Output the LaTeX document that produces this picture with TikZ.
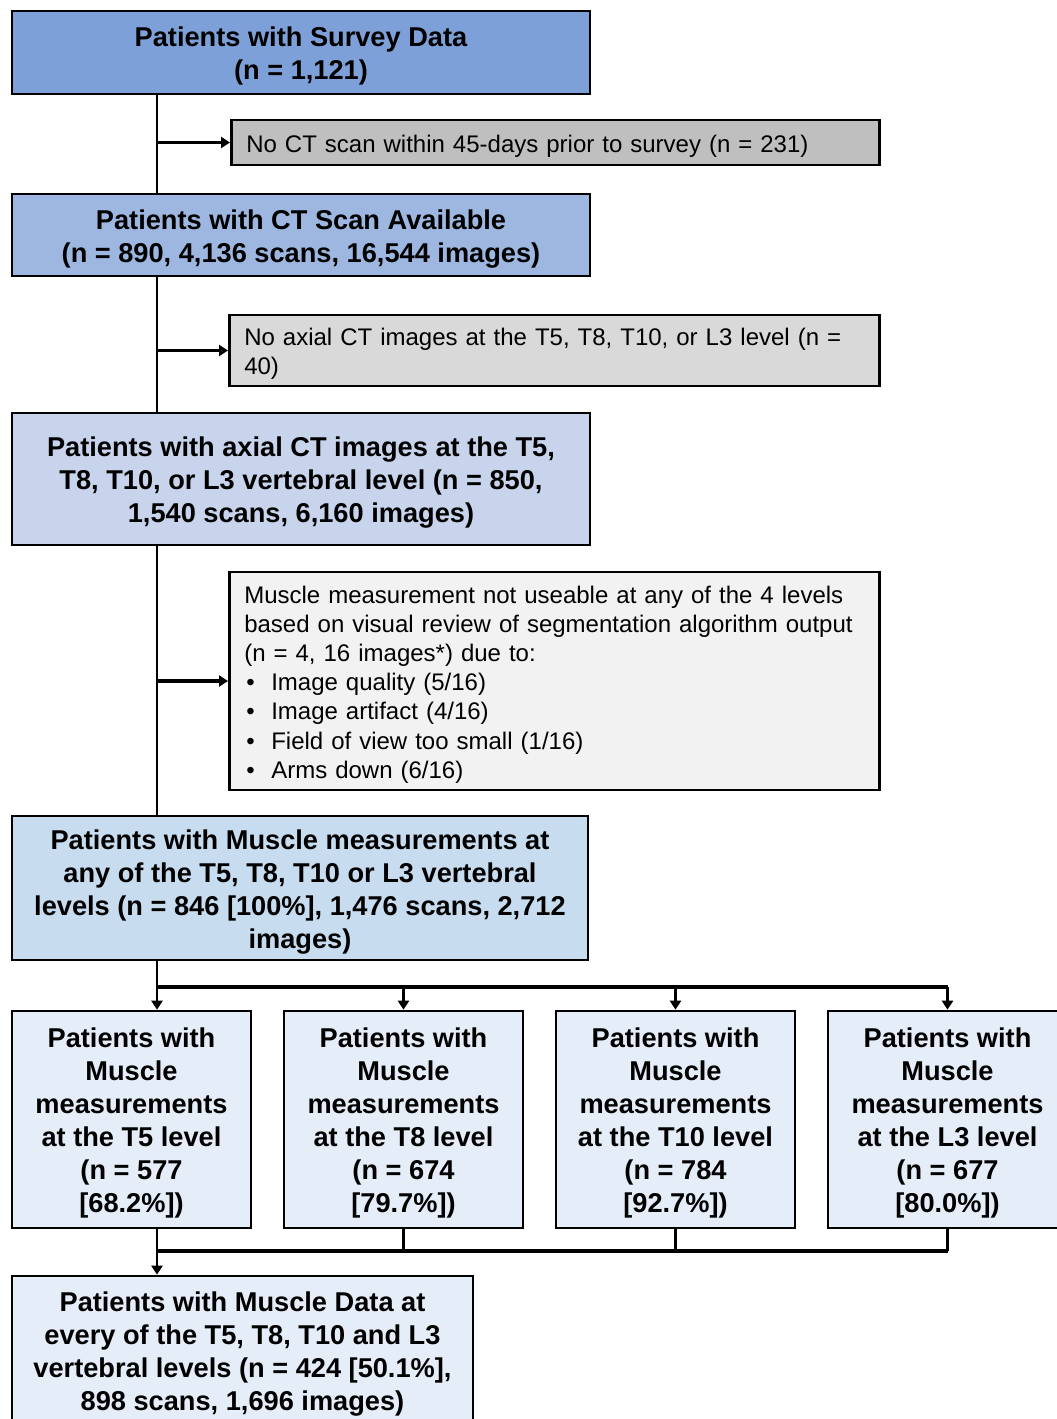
\documentclass[tikz,border=0pt]{standalone}
\usepackage{fontspec}
\setmainfont{Liberation Sans}
\usetikzlibrary{arrows.meta}
\definecolor{cA}{HTML}{7EA0D8}
\definecolor{cB}{HTML}{9DB7E1}
\definecolor{cC}{HTML}{C7D4EC}
\definecolor{cD}{HTML}{C8DCF0}
\definecolor{cE}{HTML}{E4EDF8}
\definecolor{gA}{HTML}{BFBFBF}
\definecolor{gB}{HTML}{D9D9D9}
\definecolor{gC}{HTML}{F2F2F2}
\newcommand\tstrut{\rule{0pt}{27pt}}
\begin{document}
\begin{tikzpicture}[x=1pt,y=-1pt,
  mainbox/.style={draw=black, line width=2.6pt, align=center,
    font=\fontsize{27.2}{33}\selectfont\bfseries, inner sep=0pt},
  exbox/.style={draw=black, line width=2.6pt, align=left, anchor=west,
    font=\fontsize{24}{29.2}\selectfont, inner xsep=15pt, inner ysep=0pt,
    execute at begin node={\rule{0pt}{24.5pt}}},
  conn/.style={line width=2.6pt},
  bus/.style={line width=4pt},
  arr/.style={line width=2.6pt, -{Triangle[length=9pt,width=11pt]}},
  arrb/.style={line width=3.6pt, -{Triangle[length=9pt,width=11pt]}}]
\useasboundingbox (0,0) rectangle (1057,1419);
\clip (0,0) rectangle (1057,1419);
\coordinate (t) at (157,0);
\coordinate (h1) at (0,987);
\coordinate (h2) at (0,1251);

\node[mainbox, fill=cA, minimum width=578pt, minimum height=83pt] (b1) at (301,52.5)
  {\tstrut Patients with Survey Data\\(n = 1,121)};
\node[exbox, fill=gA, minimum width=648pt, minimum height=45pt, text width=618pt] (b2) at (230,142.5)
  {No CT scan within 45-days prior to survey (n = 231)};
\node[mainbox, fill=cB, minimum width=578pt, minimum height=82pt] (b3) at (301,235)
  {\tstrut Patients with CT Scan Available\\(n = 890, 4,136 scans, 16,544 images)};
\node[exbox, fill=gB, minimum width=650pt, minimum height=71pt, text width=620pt] (b4) at (228,350.5)
  {No axial CT images at the T5, T8, T10, or L3 level (n =\\40)};
\node[mainbox, fill=cC, minimum width=578pt, minimum height=132pt] (b5) at (301,479)
  {\tstrut Patients with axial CT images at the T5,\\T8, T10, or L3 vertebral level (n = 850,\\1,540 scans, 6,160 images)};
\node[exbox, fill=gC, minimum width=650pt, minimum height=218pt, text width=620pt] (b6) at (228,681)
  {Muscle measurement not useable at any of the 4 levels\\
   based on visual review of segmentation algorithm output\\
   (n = 4, 16 images*) due to:\\
   \hspace*{2pt}\makebox[25pt][l]{•}Image quality (5/16)\\
   \hspace*{2pt}\makebox[25pt][l]{•}Image artifact (4/16)\\
   \hspace*{2pt}\makebox[25pt][l]{•}Field of view too small (1/16)\\
   \hspace*{2pt}\makebox[25pt][l]{•}Arms down (6/16)};
\node[mainbox, fill=cD, minimum width=576pt, minimum height=144pt] (b7) at (300,888)
  {\tstrut Patients with Muscle measurements at\\any of the T5, T8, T10 or L3 vertebral\\levels (n = 846 [100\%], 1,476 scans, 2,712\\images)};

\node[mainbox, fill=cE, minimum width=239pt, minimum height=217pt] (b8) at (131.5,1119.5)
  {\tstrut Patients with\\Muscle\\measurements\\at the T5 level\\(n = 577\\ {[68.2\%]})};
\node[mainbox, fill=cE, minimum width=239pt, minimum height=217pt] (b9) at (403.5,1119.5)
  {\tstrut Patients with\\Muscle\\measurements\\at the T8 level\\(n = 674\\ {[79.7\%]})};
\node[mainbox, fill=cE, minimum width=239pt, minimum height=217pt] (b10) at (675.5,1119.5)
  {\tstrut Patients with\\Muscle\\measurements\\at the T10 level\\(n = 784\\ {[92.7\%]})};
\node[mainbox, fill=cE, minimum width=239pt, minimum height=217pt] (b11) at (947.5,1119.5)
  {\tstrut Patients with\\Muscle\\measurements\\at the L3 level\\(n = 677\\ {[80.0\%]})};

\node[mainbox, fill=cE, minimum width=461pt, minimum height=148pt] (b12) at (242.5,1350)
  {\tstrut Patients with Muscle Data at\\every of the T5, T8, T10 and L3\\vertebral levels (n = 424 [50.1\%],\\898 scans, 1,696 images)};

% trunk
\draw[conn] (b1.south -| t) -- (b3.north -| t);
\draw[conn] (b3.south -| t) -- (b5.north -| t);
\draw[conn] (b5.south -| t) -- (b7.north -| t);
\draw[arr] (t |- b2.west) -- (b2.west);
\draw[arrb] (t |- b4.west) -- (b4.west);
\draw[arrb] (t |- b6.west) -- (b6.west);
% split
\draw[conn] (b7.south -| t) -- (t |- h1);
\draw[bus] (t |- h1) -- (b11.north |- h1);
\draw[arr] (t |- h1) -- (b8.north -| t);
\draw[arr] (b9.north |- h1) -- (b9.north);
\draw[arr] (b10.north |- h1) -- (b10.north);
\draw[arr] (b11.north |- h1) -- (b11.north);
% merge
\draw[conn] (b8.south -| t) -- (t |- h2);
\draw[conn] (b9.south) -- (b9.south |- h2);
\draw[conn] (b10.south) -- (b10.south |- h2);
\draw[conn] (b11.south) -- (b11.south |- h2);
\draw[bus] (t |- h2) -- (b11.south |- h2);
\draw[arr] (t |- h2) -- (b12.north -| t);
\end{tikzpicture}
\end{document}
